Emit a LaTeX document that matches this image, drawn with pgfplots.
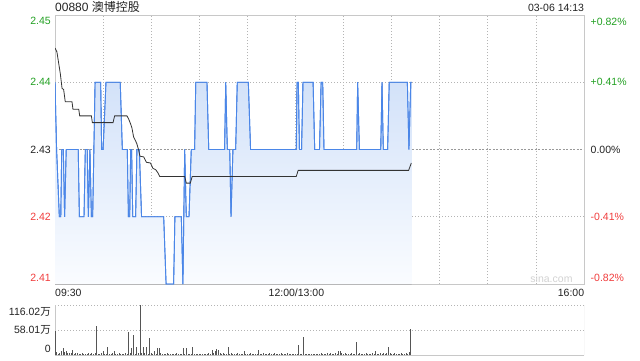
\documentclass[border=0pt]{standalone}
\usepackage{pgfplots}
\pgfplotsset{compat=1.18}
\usepgfplotslibrary{fillbetween}
\usepackage{pgfplotstable}
\usepackage{fontspec}
\setmainfont{Liberation Sans}
\newfontfamily\cjk{Noto Sans CJK SC}
\definecolor{pblue}{HTML}{4A86E8}
\definecolor{avgc}{HTML}{333333}
\definecolor{gridc}{HTML}{B4B4B4}
\definecolor{midgrid}{HTML}{999999}
\definecolor{framec}{HTML}{C8C8C8}
\definecolor{upc}{HTML}{22A022}
\definecolor{dnc}{HTML}{F03C3C}
\definecolor{txt}{HTML}{222222}
\definecolor{filltop}{HTML}{D3E2F9}
\definecolor{fillbot}{HTML}{FAFCFF}
\definecolor{volc}{HTML}{555555}
\definecolor{wm}{HTML}{D2D2D2}

\pgfplotstableread{
m p
0 2.44
1 2.43
2.7 2.42
3.6 2.42
4.2 2.43
5.2 2.43
6.0 2.42
7.0 2.43
14.5 2.43
15.2 2.42
18.1 2.42
18.9 2.43
20.1 2.43
20.8 2.42
21.8 2.43
22.7 2.42
23.5 2.42
25.0 2.44
28.5 2.44
29.1 2.43
30.0 2.43
31.8 2.44
40.7 2.44
42.0 2.43
45.1 2.43
45.8 2.42
46.6 2.42
47.2 2.43
47.8 2.43
48.5 2.42
50.3 2.42
51.1 2.43
52.6 2.43
54.0 2.42
67.8 2.42
69.3 2.41
74.0 2.41
74.8 2.42
78.8 2.42
79.8 2.41
80.9 2.43
81.9 2.42
83.6 2.42
85.0 2.43
87.1 2.43
87.8 2.44
94.8 2.44
95.9 2.43
105.8 2.43
106.5 2.44
107.5 2.43
109.0 2.43
109.8 2.42
111.0 2.43
112.7 2.43
113.7 2.44
120.6 2.44
122.0 2.43
150.5 2.43
151.0 2.44
151.8 2.44
152.5 2.43
153.8 2.43
154.7 2.44
161.0 2.44
162.0 2.43
165.0 2.43
166.0 2.44
167.0 2.44
167.8 2.43
188.2 2.43
188.8 2.44
189.9 2.43
203.2 2.43
204.0 2.44
204.8 2.43
207.5 2.43
208.5 2.44
219.8 2.44
220.8 2.43
221.9 2.44
222.5 2.44
}\price

\pgfplotstableread{
m p
0 2.4451
1.2 2.4445
3.3 2.4413
4.4 2.4391
5.4 2.4389
6.4 2.4371
10.6 2.4371
11.2 2.4360
14.8 2.4360
15.4 2.4350
22.7 2.4350
23.3 2.4340
36.2 2.4340
37.2 2.4350
44.9 2.4350
46.0 2.4345
47.0 2.4339
48.0 2.4332
49.0 2.4319
50.0 2.4314
51.0 2.4309
52.2 2.4299
53.0 2.4290
55.3 2.4289
57.0 2.4281
59.5 2.4280
61.1 2.4272
62.8 2.4270
64.3 2.4265
65.3 2.4260
80.9 2.4260
81.9 2.4250
84.4 2.4250
85.6 2.4260
150.5 2.4260
151.7 2.4269
220.6 2.4269
222.3 2.4280
}\avgp

\begin{document}
\begin{tikzpicture}[x=1pt,y=1pt]
\fontsize{10.5}{12}\selectfont
\begin{axis}[
  at={(55pt,76pt)}, anchor=south west,
  scale only axis, width=529pt, height=269pt,
  xmin=0, xmax=330, ymin=2.41, ymax=2.45,
  xtick={30,60,...,300}, ytick={2.42,2.44},
  extra y ticks={2.43}, extra y tick labels={},
  extra y tick style={grid style={midgrid, dash pattern=on 2pt off 1.5pt, line width=0.8pt}},
  xticklabels={}, yticklabels={},
  major tick length=0pt,
  xmajorgrids, ymajorgrids,
  grid style={gridc, dash pattern=on 1.2pt off 1.8pt, line width=0.8pt},
  axis line style={framec, line width=0.9pt},
]
\addplot[name path=pr, pblue, line width=0.9pt, mark=none] table[x=m,y=p] {\price};
\addplot[name path=base, draw=none, mark=none] coordinates {(0,2.41) (222.5,2.41)};
\addplot[top color=filltop, bottom color=fillbot, draw=none] fill between[of=pr and base];
\addplot[pblue, line width=0.9pt, mark=none] table[x=m,y=p] {\price};
\addplot[avgc, line width=0.8pt, mark=none] table[x=m,y=p] {\avgp};
\end{axis}

\begin{axis}[
  at={(55pt,4.7pt)}, anchor=south west,
  scale only axis, width=529pt, height=50pt,
  xmin=0, xmax=330, ymin=0, ymax=116.02,
  axis x line*=bottom, axis y line*=left,
  xtick=\empty, ytick={58.01,116.02}, yticklabels={},
  major tick length=0pt,
  ymajorgrids,
  grid style={gridc, dash pattern=on 1.2pt off 1.8pt, line width=0.8pt},
  axis line style={framec, line width=0.9pt},
]
\draw[framec, line width=0.9pt] (rel axis cs:1,0) -- (rel axis cs:1,1);
\addplot[ycomb, volc, line width=0.9pt, mark=none] coordinates {
(0,55.7) (1,8) (2,4) (3,6) (4,10) (5,16) (6,8) (7,9) (8,6) (9,5)
(10,6) (11,12) (12,4) (13,6) (14,5) (15,3) (16,4) (17,5) (18,3) (19,4)
(20,3) (21,5) (22,4) (23,6) (24,3) (25,5) (26,68) (27,4) (28,3) (29,6)
(30,9) (31,4) (32,3) (33,20) (34,4) (35,3) (36,5) (37,9) (38,4) (39,3)
(40,5) (41,3) (42,4) (43,3) (44,6) (45,4) (46,53) (47,5) (48,16) (49,47)
(50,4) (51,19) (52,5) (53,116) (54,6) (55,20) (56,5) (57,19) (58,4) (59,39)
(60,5) (61,3) (62,10) (63,4) (64,18) (65,16) (66,5) (67,3) (68,4) (69,3)
(70,6) (71,3) (72,4) (73,2) (74,4) (75,3) (76,5) (77,3) (78,4) (79,3)
(80,18) (81,4) (82,16) (83,3) (84,4) (85,3) (86,20) (87,3) (88,2) (89,3)
(90,4) (91,3) (92,2) (93,3) (94,4) (95,3) (96,5) (97,4) (98,12) (99,5)
(100,10) (101,14) (102,12) (103,6) (104,4) (105,5) (106,3) (107,4) (108,20) (109,4)
(110,5) (111,3) (112,4) (113,3) (114,5) (115,4) (116,3) (117,4) (118,9) (119,3)
(120,4) (121,3) (122,5) (123,3) (124,4) (125,3) (126,4) (127,12) (128,3) (129,4)
(130,5) (131,3) (132,4) (133,3) (134,5) (135,3) (136,4) (137,6) (138,3) (139,4)
(140,3) (141,5) (142,3) (143,4) (144,3) (145,5) (146,3) (147,4) (148,3) (149,2)
(150,3) (151,4) (152,23) (153,3) (154,4) (155,41.5) (156,3) (157,3) (158,2) (159,3)
(160,4) (161,3) (162,2) (163,3) (164,4) (165,3) (166,5) (167,4) (168,3) (169,4)
(170,5) (171,4) (172,6) (173,4) (174,3) (175,5) (176,4) (177,11) (178,10) (179,5)
(180,4) (181,6) (182,3) (183,4) (184,3) (185,5) (186,4) (187,3) (188,32) (189,4)
(190,5) (191,3) (192,4) (193,3) (194,5) (195,4) (196,3) (197,4) (198,5) (199,4)
(200,10) (201,4) (202,3) (203,5) (204,4) (205,6) (206,3) (207,5) (208,20) (209,6)
(210,4) (211,3) (212,5) (213,4) (214,3) (215,4) (216,5) (217,3) (218,4) (219,5)
(220,4) (221,8) (222,60)
};
\end{axis}

% title and time stamp
\node[anchor=base west, inner sep=0pt, txt, font=\fontsize{12}{14}\selectfont] at (55,349) {00880 {\cjk 澳博控股}};
\node[anchor=base east, inner sep=0pt, txt] at (584.3,348.3) {03-06 14:13};
% left price labels
\node[anchor=base east, inner sep=0pt, upc] at (51,335.7) {2.45};
\node[anchor=base east, inner sep=0pt, upc] at (51,275) {2.44};
\node[anchor=base east, inner sep=0pt, txt] at (51,206.7) {2.43};
\node[anchor=base east, inner sep=0pt, dnc] at (51,139.3) {2.42};
\node[anchor=base east, inner sep=0pt, dnc] at (51,78.3) {2.41};
% right percent labels
\node[anchor=base west, inner sep=0pt, upc] at (590.5,335) {+0.82\%};
\node[anchor=base west, inner sep=0pt, upc] at (590.5,274.3) {+0.41\%};
\node[anchor=base west, inner sep=0pt, txt] at (590.5,206.7) {0.00\%};
\node[anchor=base west, inner sep=0pt, dnc] at (590.5,140) {-0.41\%};
\node[anchor=base west, inner sep=0pt, dnc] at (590.5,78.3) {-0.82\%};
% time labels
\node[anchor=base west, inner sep=0pt, txt] at (55,63.3) {09:30};
\node[anchor=base, inner sep=0pt, txt] at (296.4,63.3) {12:00/13:00};
\node[anchor=base east, inner sep=0pt, txt] at (584.3,63.3) {16:00};
% watermark
\node[anchor=base east, inner sep=0pt, wm] at (572.7,77.5) {sina.com};
% volume labels
\node[anchor=base east, inner sep=0pt, txt] at (51,44.5) {116.02{\cjk 万}};
\node[anchor=base east, inner sep=0pt, txt] at (51,26.5) {58.01{\cjk 万}};
\node[anchor=base east, inner sep=0pt, txt] at (51,7.7) {0};
\pgfresetboundingbox
\useasboundingbox (0,0) rectangle (640,360);
\end{tikzpicture}
\end{document}
